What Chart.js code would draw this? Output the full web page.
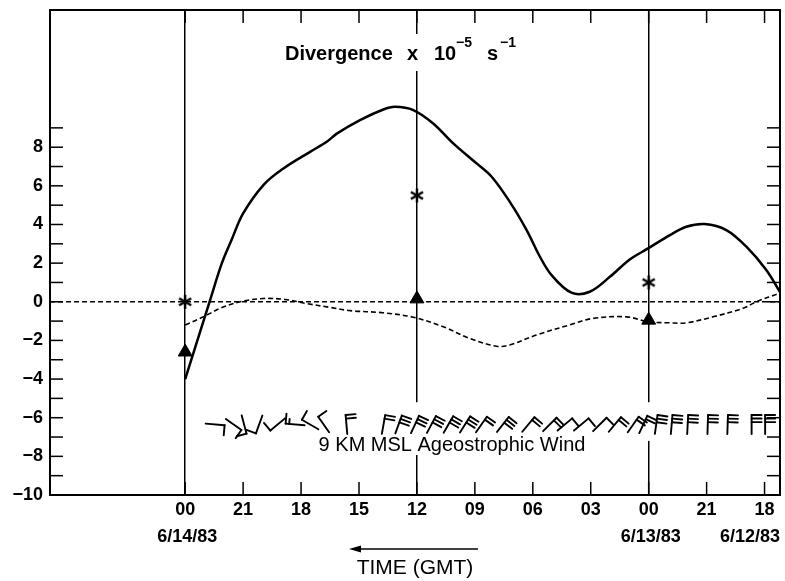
<!DOCTYPE html>
<html>
<head>
<meta charset="utf-8">
<script src="https://cdn.jsdelivr.net/npm/chart.js@4.4.1/dist/chart.umd.min.js"></script>
<style>
  html, body { margin: 0; padding: 0; background: #fff; }
  #wrap { width: 785px; height: 581px; }
</style>
</head>
<body>
<div id="wrap"><canvas id="divChart" width="785" height="581"></canvas></div>
<script>
// hours back from 6/14/83 00 GMT (time runs right to left on the plot)
var tickHours = [0, 3, 6, 9, 12, 15, 18, 21, 24, 27, 30];
var tickLabels = ['00', '21', '18', '15', '12', '09', '06', '03', '00', '21', '18'];
var dateHours = [0, 24, 30];
var dateLabels = ['6/14/83', '6/13/83', '6/12/83'];
var yLabelValues = [-10, -8, -6, -4, -2, 0, 2, 4, 6, 8];
var yMinorTicks = [-10, -9, -8, -7, -6, -5, -4, -3, -2, -1, 0, 1, 2, 3, 4, 5, 6, 7, 8, 9];
var refHours = [0, 12, 24];

// solid curve
var divHours  = [0, 1.29, 1.9, 2.4, 3.0, 4.05, 5.09, 6.47, 7.33, 7.85, 9.05, 10.26, 10.86, 11.81, 12.84, 13.88, 15.09, 15.87, 16.81, 17.68, 18.37, 18.97, 20.0, 20.95, 21.99, 23.02, 23.97, 25.1, 25.95, 26.9, 28.02, 29.06, 30.09, 30.8];
var divValues = [-4.0, 0.09, 2.0, 3.2, 4.57, 6.04, 6.9, 7.76, 8.28, 8.7, 9.4, 9.95, 10.09, 9.92, 9.23, 8.2, 7.16, 6.47, 5.17, 3.71, 2.33, 1.38, 0.47, 0.52, 1.29, 2.19, 2.76, 3.45, 3.88, 4.02, 3.71, 2.85, 1.64, 0.5];

// dashed curve
var dashHours  = [0, 0.95, 1.81, 2.85, 4.05, 5.17, 6.27, 7.5, 8.54, 10.26, 11.81, 13.36, 14.74, 16.12, 16.8, 18.18, 19.9, 21.12, 22.85, 23.97, 25.1, 25.95, 27.33, 28.88, 29.57, 30.8];
var dashValues = [-1.2, -0.78, -0.34, 0, 0.17, 0.12, -0.09, -0.29, -0.46, -0.57, -0.8, -1.29, -1.9, -2.3, -2.24, -1.72, -1.2, -0.86, -0.78, -1.03, -1.09, -1.09, -0.78, -0.34, 0, 0.45];

// single observations
var starHours = [0, 12, 24];
var starValues = [0, 5.5, 1.0];
var triHours = [0, 12, 24];
var triValues = [-2.6, 0.15, -0.95];

// 9 km ageostrophic wind barbs: time, staff direction (deg clockwise from up), feathers
var windHours = [1.55, 2.51, 3.05, 3.83, 4.79, 5.69, 6.47, 7.17, 8.35, 10.27, 11.05, 11.9, 12.75, 13.63, 14.49, 15.34, 16.45, 17.77, 18.88, 19.66, 20.51, 21.47, 22.25, 23.2, 23.72, 24.39, 25.19, 26.02, 27.06, 28.09, 29.33, 30.03];
var windDir   = [95, 125, 165, 200, 230, 275, 300, 325, 355, 10, 20, 25, 28, 30, 32, 35, 38, 40, 45, 50, 50, 45, 40, 35, 25, 8, 5, 3, 2, 2, 0, 0];
var windFeathers = [1, 1, 1, 1, 1, 1.5, 1, 1, 2, 2, 3, 3, 3, 3, 3, 2, 3, 2, 2, 1, 1, 1, 2, 2, 2, 3, 3, 3, 3, 3, 3, 3];

var FONT = "'Liberation Sans', Arial, Helvetica, sans-serif";
Chart.defaults.font.family = FONT;
Chart.defaults.color = '#000';

function pts(xs, ys) {
    return xs.map(function (h, i) { return { x: h, y: ys[i] }; });
}

function asteriskImage(r) {
    var c = document.createElement('canvas');
    c.width = c.height = 2 * r + 4;
    var g = c.getContext('2d');
    g.translate(r + 2, r + 2);
    g.strokeStyle = '#000';
    g.lineWidth = 2.4;
    for (var k = 0; k < 3; k++) {
        var a = k * Math.PI / 3;
        g.beginPath();
        g.moveTo(-r * Math.sin(a), -r * Math.cos(a));
        g.lineTo(r * Math.sin(a), r * Math.cos(a));
        g.stroke();
    }
    return c;
}

function line(ctx, x1, y1, x2, y2) {
    ctx.beginPath();
    ctx.moveTo(x1, y1);
    ctx.lineTo(x2, y2);
    ctx.stroke();
}

function drawBarb(ctx, cx, cy, dir, feathers) {
    var a = dir * Math.PI / 180;
    var ux = Math.sin(a), uy = -Math.cos(a);
    var rx = -uy, ry = ux;
    var L = 19, F = 10, S = 3.6;
    var tx = cx + ux * L / 2, ty = cy + uy * L / 2;
    line(ctx, cx - ux * L / 2, cy - uy * L / 2, tx, ty);
    var n = Math.floor(feathers);
    for (var i = 0; i < n; i++) {
        var sx = tx - ux * S * i, sy = ty - uy * S * i;
        line(ctx, sx, sy, sx + rx * F, sy + ry * F);
    }
    if (feathers > n) {
        var hx = tx - ux * S * n, hy = ty - uy * S * n;
        line(ctx, hx, hy, hx + rx * F / 2, hy + ry * F / 2);
    }
}

function noEdgePadding(s) {
    s.paddingTop = 0;
    s.paddingBottom = 0;
    s.paddingLeft = 0;
    s.paddingRight = 0;
}

var decorations = {
    id: 'decorations',
    beforeDatasetsDraw: function (chart) {
        var ctx = chart.ctx, x = chart.scales.x, y = chart.scales.y;
        ctx.save();
        ctx.fillStyle = '#fff';
        // breaks in the vertical reference lines behind text and barbs
        ctx.fillRect(280, 34, 250, 37);
        ctx.fillRect(x.getPixelForValue(1), y.getPixelForValue(-5.2), x.getPixelForValue(30.3) - x.getPixelForValue(1), y.getPixelForValue(-7.2) - y.getPixelForValue(-5.2));
        ctx.fillRect(310, 430, 285, 25);
        ctx.restore();
    },
    afterDatasetsDraw: function (chart) {
        var ctx = chart.ctx, x = chart.scales.x, y = chart.scales.y;
        ctx.save();
        ctx.strokeStyle = '#000';
        ctx.lineWidth = 1.9;
        ctx.lineCap = 'round';
        var cy = y.getPixelForValue(-6.35);
        windHours.forEach(function (h, i) {
            drawBarb(ctx, x.getPixelForValue(h), cy, windDir[i], windFeathers[i]);
        });
        ctx.fillStyle = '#000';
        ctx.font = '20px ' + FONT;
        ctx.textAlign = 'center';
        ctx.textBaseline = 'alphabetic';
        ctx.fillText('9 KM MSL Ageostrophic Wind', 452, 451);
        ctx.restore();
    },
    afterDraw: function (chart) {
        var ctx = chart.ctx, a = chart.chartArea, x = chart.scales.x, y = chart.scales.y;
        ctx.save();
        ctx.strokeStyle = '#000';
        ctx.fillStyle = '#000';
        ctx.lineWidth = 1.5;
        yMinorTicks.forEach(function (v) {
            var py = y.getPixelForValue(v);
            line(ctx, a.left, py, a.left + 13, py);
            line(ctx, a.right - 13, py, a.right, py);
        });
        tickHours.forEach(function (h) {
            var px = x.getPixelForValue(h);
            line(ctx, px, a.top, px, a.top + 13);
            line(ctx, px, a.bottom - 13, px, a.bottom);
        });
        ctx.lineWidth = 2;
        ctx.strokeRect(a.left, a.top, a.right - a.left, a.bottom - a.top);

        // date labels under the 00 ticks
        ctx.font = 'bold 18px ' + FONT;
        ctx.textBaseline = 'middle';
        dateHours.forEach(function (h, i) {
            var px = x.getPixelForValue(h);
            if (px + 30 > a.right) {
                ctx.textAlign = 'right';
                ctx.fillText(dateLabels[i], a.right, 537);
            } else {
                ctx.textAlign = 'center';
                ctx.fillText(dateLabels[i], px + 2, 537);
            }
        });

        // arrow showing the direction of time
        ctx.lineWidth = 1.5;
        line(ctx, 352, 549, 478, 549);
        ctx.beginPath();
        ctx.moveTo(349, 549);
        ctx.lineTo(361, 545.5);
        ctx.lineTo(361, 552.5);
        ctx.closePath();
        ctx.fill();

        // title with superscripts
        ctx.textAlign = 'left';
        ctx.textBaseline = 'alphabetic';
        ctx.font = 'bold 20px ' + FONT;
        ctx.fillText('Divergence', 285, 60);
        ctx.fillText('x', 407, 60);
        ctx.fillText('10', 434, 60);
        ctx.fillText('s', 487, 60);
        ctx.font = 'bold 14px ' + FONT;
        ctx.fillText('\u22125', 456, 47);
        ctx.fillText('\u22121', 500, 47);
        ctx.restore();
    }
};

var ctx = document.getElementById('divChart').getContext('2d');
var divChart = new Chart(ctx, {
    type: 'line',
    data: {
        datasets: [{
            label: 'zero',
            data: pts([-7, 30.8], [0, 0]),
            borderColor: '#000',
            borderWidth: 1.3,
            borderDash: [5, 3],
            pointRadius: 0
        }, {
            label: 'Divergence',
            data: pts(divHours, divValues),
            borderColor: '#000',
            borderWidth: 2.5,
            tension: 0.35,
            pointRadius: 0
        }, {
            label: 'Dashed',
            data: pts(dashHours, dashValues),
            borderColor: '#000',
            borderWidth: 1.6,
            borderDash: [5, 3],
            tension: 0.35,
            pointRadius: 0
        }, {
            label: 'Asterisk',
            data: pts(starHours, starValues),
            showLine: false,
            pointStyle: asteriskImage(7),
            pointRadius: 7
        }, {
            label: 'Triangle',
            data: pts(triHours, triValues),
            showLine: false,
            pointStyle: 'triangle',
            pointRadius: 8,
            backgroundColor: '#000',
            borderColor: '#000',
            borderWidth: 1
        }]
    },
    options: {
        responsive: false,
        animation: false,
        layout: { autoPadding: false, padding: { top: 10, right: 5, left: 0, bottom: 0 } },
        plugins: { legend: { display: false }, tooltip: { enabled: false } },
        scales: {
            x: {
                type: 'linear',
                min: -7,
                max: 30.8,
                afterBuildTicks: function (s) {
                    s.ticks = tickHours.map(function (v) { return { value: v }; });
                },
                afterFit: function (s) { s.height = 86; noEdgePadding(s); },
                ticks: {
                    autoSkip: false,
                    maxRotation: 0,
                    padding: 4,
                    font: { size: 18, weight: 'bold' },
                    color: '#000',
                    callback: function (v) {
                        var i = tickHours.indexOf(v);
                        return i >= 0 ? tickLabels[i] : '';
                    }
                },
                grid: {
                    drawTicks: false,
                    lineWidth: 1.5,
                    color: function (c) {
                        return c.tick && refHours.indexOf(c.tick.value) >= 0 ? '#000' : 'rgba(0,0,0,0)';
                    }
                },
                border: { display: true, color: '#000', width: 2 },
                title: {
                    display: true,
                    text: 'TIME (GMT)',
                    color: '#000',
                    font: { size: 21 },
                    padding: { top: 0, bottom: 0 }
                }
            },
            y: {
                min: -10,
                max: 15.1,
                afterBuildTicks: function (s) {
                    s.ticks = yLabelValues.map(function (v) { return { value: v }; });
                },
                afterFit: function (s) { s.width = 50; noEdgePadding(s); },
                ticks: {
                    padding: 7,
                    font: { size: 18, weight: 'bold' },
                    color: '#000',
                    callback: function (v) { return v < 0 ? '\u2212' + Math.abs(v) : String(v); }
                },
                grid: { display: false, drawTicks: false },
                border: { display: true, color: '#000', width: 2 }
            }
        }
    },
    plugins: [decorations]
});
</script>
</body>
</html>
